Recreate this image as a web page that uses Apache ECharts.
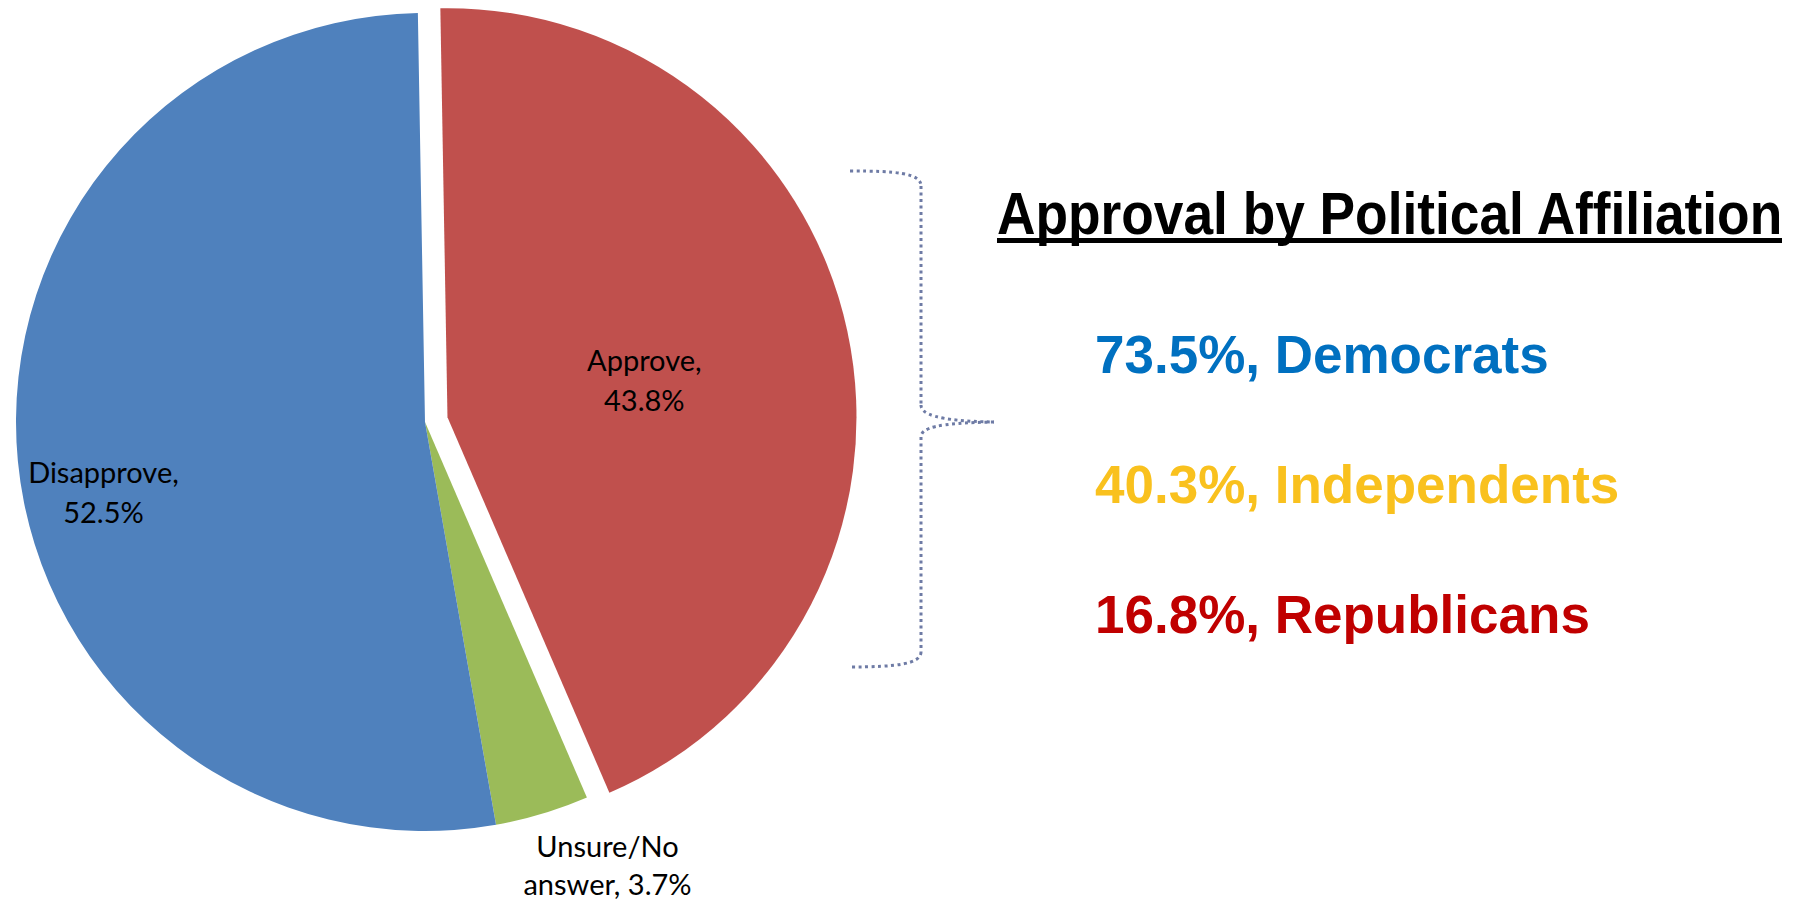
<!DOCTYPE html>
<html>
<head>
<meta charset="utf-8">
<title>Approval</title>
<script src="https://cdn.jsdelivr.net/npm/echarts@6.0.0/dist/echarts.min.js"></script>
<style>
  html, body { margin: 0; padding: 0; background: #fff; }
  #main { width: 1797px; height: 904px; }
</style>
</head>
<body>
<div id="main"></div>
<script>
// pie data (clockwise from the top)
var sliceNames = ['Approve', 'Unsure/No answer', 'Disapprove'];
var sliceValues = [43.8, 3.7, 52.5];

// approval by party
var partyNames = ['Democrats', 'Independents', 'Republicans'];
var partyApproval = [73.5, 40.3, 16.8];

var titleText = 'Approval by Political Affiliation';

// styles
var sliceColors = ['#C0504D', '#9BBB59', '#4F81BD'];
var partyColors = ['#0070C0', '#F9C11E', '#C00000'];
// label nudges away from the default "inside" spot
var labelOffsets = [[-6, 6], [123, 244], [-115, 50]];

var chart = echarts.init(document.getElementById('main'), null, { renderer: 'svg' });

var pieData = sliceNames.map(function (name, i) {
  var lbl = { offset: labelOffsets[i], lineHeight: i === 1 ? 38 : 40 };
  return {
    name: name,
    value: sliceValues[i],
    selected: i === 0,
    itemStyle: { color: sliceColors[i] },
    label: lbl,
    select: { label: lbl }
  };
});

var graphics = [];

// title + underline
graphics.push({
  type: 'text',
  x: 997,
  y: 213,
  scaleX: 0.888,
  style: {
    text: titleText,
    font: 'bold 60px "Liberation Sans", Arial, sans-serif',
    fill: '#000',
    textAlign: 'left',
    textVerticalAlign: 'middle'
  }
});
graphics.push({
  type: 'rect',
  shape: { x: 997, y: 238, width: 785, height: 5 },
  style: { fill: '#000' }
});

// party rows
partyNames.forEach(function (name, i) {
  graphics.push({
    type: 'text',
    x: 1095,
    y: 354 + i * 130,
    style: {
      text: partyApproval[i].toFixed(1) + '%, ' + name,
      font: 'bold 53px "Liberation Sans", Arial, sans-serif',
      fill: partyColors[i],
      textAlign: 'left',
      textVerticalAlign: 'middle'
    }
  });
});

// dotted brace
var braceStyle = {
  stroke: '#6E7BA5',
  lineWidth: 3,
  lineDash: [3, 3.5],
  fill: null
};
function curve(x1, y1, cx1, cy1, cx2, cy2, x2, y2) {
  return {
    type: 'bezierCurve',
    shape: { x1: x1, y1: y1, cpx1: cx1, cpy1: cy1, cpx2: cx2, cpy2: cy2, x2: x2, y2: y2 },
    style: braceStyle
  };
}
function seg(x1, y1, x2, y2) {
  return { type: 'line', shape: { x1: x1, y1: y1, x2: x2, y2: y2 }, style: braceStyle };
}
graphics.push(
  curve(850, 171, 896, 171, 921, 173, 921, 186),
  seg(921, 186, 921, 405),
  curve(921, 405, 921, 414, 936, 421, 994, 422),
  curve(994, 422, 936, 423, 921, 428, 921, 437),
  seg(921, 437, 921, 652),
  curve(921, 652, 921, 664, 896, 667, 850, 667)
);

var option = {
  backgroundColor: '#fff',
  animation: false,
  series: [{
    type: 'pie',
    center: [425, 422],
    radius: 409,
    startAngle: 91,
    clockwise: true,
    selectedMode: 'single',
    selectedOffset: 23,
    avoidLabelOverlap: false,
    itemStyle: { borderWidth: 0 },
    emphasis: { disabled: true },
    select: { itemStyle: { borderWidth: 0 } },
    label: {
      show: true,
      position: 'inside',
      color: '#000',
      fontFamily: 'Lato, "Noto Sans", sans-serif',
      fontSize: 29,
      lineHeight: 40,
      align: 'center',
      formatter: function (p) {
        return (p.name + ', ' + p.value.toFixed(1) + '%').replace(' ', '\n');
      }
    },
    labelLine: { show: false },
    data: pieData
  }],
  graphic: graphics
};

chart.setOption(option);
</script>
</body>
</html>
